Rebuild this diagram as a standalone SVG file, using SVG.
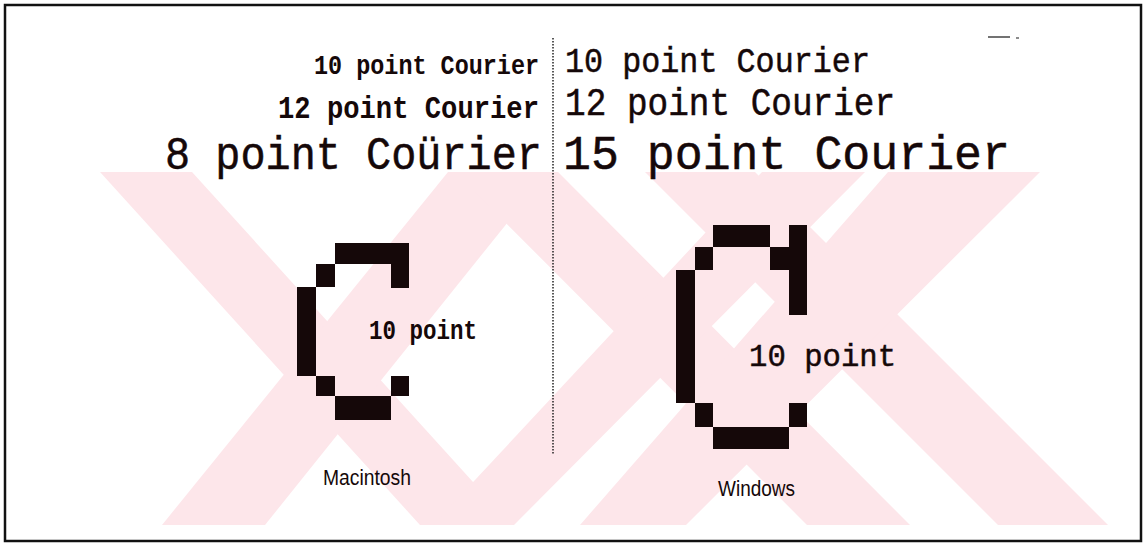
<svg xmlns="http://www.w3.org/2000/svg" width="1148" height="549" viewBox="0 0 1148 549">
  <style>
    .wm { fill: #fde6ea; }
    .px { fill: #150809; }
    .monoB { font-family: "Liberation Mono", "DejaVu Sans Mono", monospace; font-weight: bold; fill: #150809; }
    .mono { font-family: "Liberation Mono", "DejaVu Sans Mono", monospace; fill: #150809; stroke: #150809; stroke-width: 0.5; }
    .sans { font-family: "Liberation Sans", Arial, sans-serif; fill: #150809; }
  </style>
  <rect width="1148" height="549" fill="#ffffff"/>
  <g id="watermark">
    <polygon class="wm" points="100,172 192,172 512,525 420,525"/>
    <polygon class="wm" points="448,172 548,172 265,525 162,525"/>
    <polygon class="wm" points="455,172 558,172 910,525 807,525"/>
    <polygon class="wm" points="762,172 865,172 514,525 433,525"/>
    <polygon class="wm" points="645,172 755,172 1108,525 998,525"/>
    <polygon class="wm" points="888,172 1040,172 686,525 580,525"/>
  </g>
  <g id="frame">
    <rect x="5" y="5" width="1136" height="536" fill="none" stroke="#111" stroke-width="2.5"/>
    <line x1="988" y1="37" x2="1010" y2="37" stroke="#444" stroke-width="1.5"/>
    <line x1="1016" y1="38" x2="1019" y2="38" stroke="#666" stroke-width="1.5"/>
  </g>
  <g id="connectors">
    <line x1="553" y1="38" x2="553" y2="455" stroke="#222" stroke-width="1.5" stroke-dasharray="1.5 1.5"/>
  </g>
  <g id="mac-labels">
    <text class="monoB" x="314" y="74" font-size="28" textLength="225" lengthAdjust="spacingAndGlyphs">10 point Courier</text>
    <text class="monoB" x="278" y="118" font-size="31" textLength="261" lengthAdjust="spacingAndGlyphs">12 point Courier</text>
    <text class="mono" x="165" y="169" font-size="46" textLength="377" lengthAdjust="spacingAndGlyphs">8 point Coürier</text>
  </g>
  <g id="win-labels">
    <text class="mono" x="565" y="72" font-size="35" textLength="305" lengthAdjust="spacingAndGlyphs">10 point Courier</text>
    <text class="mono" x="565" y="115" font-size="38" textLength="330" lengthAdjust="spacingAndGlyphs">12 point Courier</text>
    <text class="mono" x="563" y="169" font-size="49" textLength="447" lengthAdjust="spacingAndGlyphs">15 point Courier</text>
  </g>
  <g id="mac-glyph">
    <rect class="px" x="335" y="243" width="74" height="21"/>
    <rect class="px" x="391" y="243" width="18" height="45"/>
    <rect class="px" x="316" y="264" width="19" height="23"/>
    <rect class="px" x="297" y="287" width="19" height="89"/>
    <rect class="px" x="316" y="376" width="19" height="20"/>
    <rect class="px" x="391" y="376" width="18" height="20"/>
    <rect class="px" x="335" y="396" width="56" height="24"/>
    <text class="monoB" x="369" y="339" font-size="27" textLength="108" lengthAdjust="spacingAndGlyphs">10 point</text>
  </g>
  <g id="win-glyph">
    <rect class="px" x="713" y="225" width="57" height="22"/>
    <rect class="px" x="789" y="225" width="18" height="90"/>
    <rect class="px" x="770" y="247" width="19" height="23"/>
    <rect class="px" x="695" y="247" width="18" height="23"/>
    <rect class="px" x="676" y="270" width="19" height="133"/>
    <rect class="px" x="695" y="403" width="18" height="24"/>
    <rect class="px" x="789" y="403" width="18" height="24"/>
    <rect class="px" x="713" y="427" width="76" height="22"/>
    <text class="mono" x="749" y="366" font-size="32" textLength="147" lengthAdjust="spacingAndGlyphs">10 point</text>
  </g>
  <g id="captions">
    <text class="sans" x="323" y="485" font-size="22" textLength="88" lengthAdjust="spacingAndGlyphs">Macintosh</text>
    <text class="sans" x="718" y="496" font-size="22" textLength="77" lengthAdjust="spacingAndGlyphs">Windows</text>
  </g>
</svg>
